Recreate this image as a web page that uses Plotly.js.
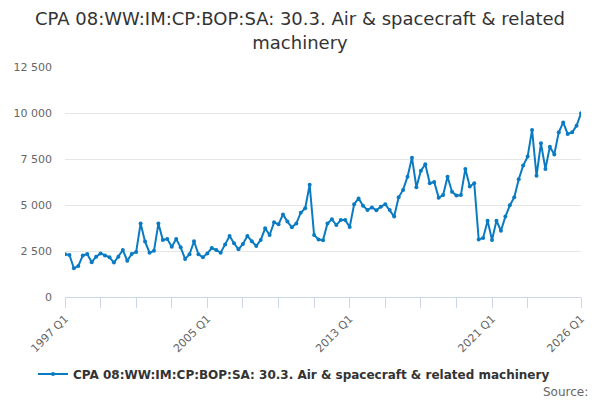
<!DOCTYPE html>
<html>
<head>
<meta charset="utf-8">
<script src="https://cdn.plot.ly/plotly-3.0.1.min.js"></script>
<style>html,body{margin:0;padding:0;background:#fff;}#chart{width:600px;height:400px;}</style>
</head>
<body>
<div id="chart"></div>
<script>
const startYear = 1997;
const quarterCount = 117;
const values = [
  2320, 2280, 1560, 1690, 2250, 2340, 1890, 2190, 2370, 2250,
  2160, 1870, 2190, 2550, 1970, 2340, 2450, 4000, 3010, 2410,
  2510, 3990, 3100, 3150, 2730, 3150, 2700, 2070, 2320, 3030,
  2320, 2160, 2370, 2660, 2550, 2410, 2860, 3320, 2920, 2590,
  2880, 3320, 3030, 2770, 3100, 3730, 3370, 4060, 3950, 4490,
  4100, 3790, 4000, 4580, 4820, 6100, 3370, 3130, 3080, 4000,
  4220, 3910, 4180, 4180, 3800, 5040, 5360, 4960, 4730, 4870,
  4710, 4910, 5040, 4730, 4370, 5420, 5820, 6540, 7570, 5960,
  6860, 7210, 6180, 6250, 5400, 5540, 6540, 5720, 5510, 5540,
  6960, 6000, 6180, 3130, 3210, 4150, 3100, 4150, 3600, 4370,
  4980, 5420, 6400, 7140, 7630, 9080, 6590, 8350, 6960, 8170,
  7750, 8950, 9490, 8860, 8950, 9310, 9980
];
const quarterLabels = [];
for (let i = 0; i < quarterCount; i++) {
  quarterLabels.push((startYear + Math.floor(i / 4)) + ' Q' + (i % 4 + 1));
}
const tickIndexes = [0, 8, 16, 24, 32, 40, 48, 56, 64, 72, 80, 88, 96, 104, 116];
const labelledTicks = ['1997 Q1', '2005 Q1', '2013 Q1', '2021 Q1', '2026 Q1'];
const yTicks = [0, 2500, 5000, 7500, 10000, 12500];
const seriesName = 'CPA 08:WW:IM:CP:BOP:SA: 30.3. Air & spacecraft & related machinery';

const xIdx = quarterLabels.map((_, i) => i);
const tickText = tickIndexes.map(i => labelledTicks.includes(quarterLabels[i]) ? quarterLabels[i] : '');

const font = 'DejaVu Sans, sans-serif';
const trace = {
  x: xIdx,
  y: values,
  text: quarterLabels,
  type: 'scatter',
  mode: 'lines+markers',
  name: seriesName,
  line: {color: '#0a7bc2', width: 2},
  marker: {color: '#0a7bc2', size: 4},
  hovertemplate: '%{text}: %{y}<extra></extra>'
};
const layout = {
  width: 600, height: 400,
  margin: {l: 65, r: 19, t: 67, b: 103},
  paper_bgcolor: '#fff', plot_bgcolor: '#fff',
  separators: '. ',
  font: {family: font, color: '#666', size: 11},
  title: {
    text: 'CPA 08:WW:IM:CP:BOP:SA: 30.3. Air & spacecraft & related<br>machinery',
    x: 0.5, xanchor: 'center', xref: 'container',
    y: 0.937, yanchor: 'top', yref: 'container',
    font: {family: font, size: 18, color: '#333'}
  },
  xaxis: {
    range: [0, 116],
    tickmode: 'array', tickvals: tickIndexes, ticktext: tickText,
    tickangle: -45,
    ticks: 'outside', ticklen: 10, tickcolor: '#ccd6eb', tickwidth: 1,
    showline: true, linecolor: '#ccd6eb', linewidth: 1,
    showgrid: false, zeroline: false,
    tickfont: {family: font, size: 11, color: '#666'},
    fixedrange: true
  },
  yaxis: {
    range: [0, 12500],
    tickmode: 'array', tickvals: yTicks,
    tickformat: ',d',
    showgrid: true, gridcolor: '#e6e6e6', gridwidth: 1,
    zeroline: false, showline: false,
    ticks: '', ticklabelstandoff: 12,
    tickfont: {family: font, size: 11, color: '#666'},
    fixedrange: true
  },
  showlegend: true,
  legend: {
    orientation: 'h', xref: 'container', x: 0.49, xanchor: 'center',
    yref: 'container', y: 0.065, yanchor: 'middle',
    itemwidth: 30,
    font: {family: font, size: 12, color: '#333', weight: 'bold'}
  },
  annotations: [{
    text: 'Source:', xref: 'paper', yref: 'paper',
    x: 1.017, xanchor: 'right', y: -0.413, yanchor: 'middle',
    showarrow: false, font: {family: font, size: 12, color: '#666'}
  }]
};
Plotly.newPlot('chart', [trace], layout, {displayModeBar: false, staticPlot: true});
</script>
</body>
</html>
